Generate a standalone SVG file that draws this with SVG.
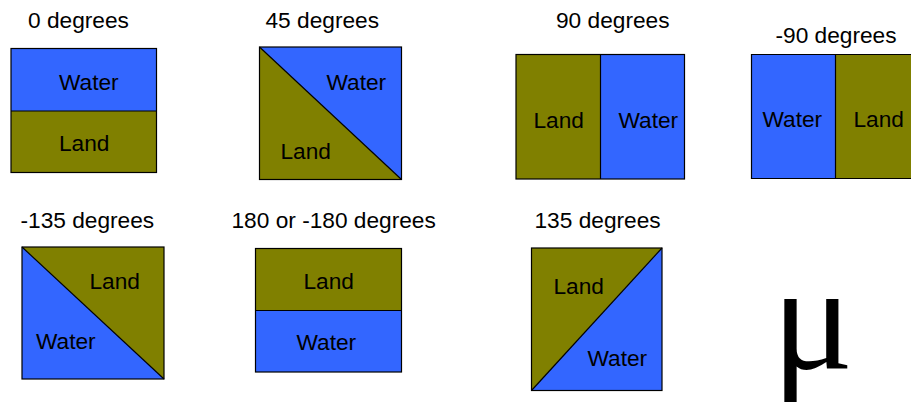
<svg xmlns="http://www.w3.org/2000/svg" width="911" height="402" viewBox="0 0 911 402">
<style>
text{font-family:"Liberation Sans",Arial,sans-serif;font-size:22.7px;fill:#000}
.w{fill:#3366FF}
.l{fill:#808000}
.b{fill:none;stroke:#000;stroke-width:1.2}
.d{stroke:#000;stroke-width:1.2;fill:none}
.mu{font-family:"Liberation Serif","Times New Roman",serif;font-size:152px}
</style>
<rect width="911" height="402" fill="#fff"/>
<g id="p0">
<text x="28" y="28">0 degrees</text>
<rect class="w" x="11" y="48.5" width="145.5" height="62.5"/>
<rect class="l" x="11" y="111" width="145.5" height="61.5"/>
<rect class="b" x="11" y="48.5" width="145.5" height="124"/>
<line class="d" x1="11" y1="111" x2="156.5" y2="111"/>
<text x="59" y="90">Water</text>
<text x="59" y="151">Land</text>
</g>
<g id="p45">
<text x="265.5" y="28">45 degrees</text>
<polygon class="w" points="259.5,47 401.5,47 401.5,179.5"/>
<polygon class="l" points="259.5,47 401.5,179.5 259.5,179.5"/>
<rect class="b" x="259.5" y="47" width="142" height="132.5"/>
<line class="d" x1="259.5" y1="47" x2="401.5" y2="179.5"/>
<text x="326.5" y="89.5">Water</text>
<text x="280.5" y="158.5">Land</text>
</g>
<g id="p90">
<text x="556" y="28">90 degrees</text>
<rect class="l" x="516" y="54.5" width="84.5" height="124.5"/>
<rect class="w" x="600.5" y="54.5" width="84" height="124.5"/>
<rect class="b" x="516" y="54.5" width="168.5" height="124.5"/>
<line class="d" x1="600.5" y1="54.5" x2="600.5" y2="179"/>
<text x="533.5" y="128">Land</text>
<text x="618.5" y="128">Water</text>
</g>
<g id="pm90">
<text x="775.5" y="43">-90 degrees</text>
<rect class="w" x="751.5" y="54.5" width="84" height="124"/>
<rect class="l" x="835.5" y="54.5" width="80" height="124"/>
<path class="d" d="M915,54.5 H751.5 V178.5 H915"/>
<line class="d" x1="835.5" y1="54.5" x2="835.5" y2="178.5"/>
<text x="762.5" y="127">Water</text>
<text x="853.5" y="127">Land</text>
</g>
<g id="pm135">
<text x="20.5" y="228">-135 degrees</text>
<polygon class="l" points="22,247 164,247 164,379"/>
<polygon class="w" points="22,247 164,379 22,379"/>
<rect class="b" x="22" y="247" width="142" height="132"/>
<line class="d" x1="22" y1="247" x2="164" y2="379"/>
<text x="89.5" y="288.5">Land</text>
<text x="36" y="349">Water</text>
</g>
<g id="p180">
<text x="231.5" y="228">180 or -180 degrees</text>
<rect class="l" x="255.5" y="248.5" width="146" height="62"/>
<rect class="w" x="255.5" y="310.5" width="146" height="61.5"/>
<rect class="b" x="255.5" y="248.5" width="146" height="123.5"/>
<line class="d" x1="255.5" y1="310.5" x2="401.5" y2="310.5"/>
<text x="303.5" y="289">Land</text>
<text x="296.5" y="350">Water</text>
</g>
<g id="p135">
<text x="534.5" y="228">135 degrees</text>
<polygon class="l" points="531.5,248 662,248 531.5,390.5"/>
<polygon class="w" points="662,248 662,390.5 531.5,390.5"/>
<rect class="b" x="531.5" y="248" width="130.5" height="142.5"/>
<line class="d" x1="531.5" y1="390.5" x2="662" y2="248"/>
<text x="553.5" y="293.5">Land</text>
<text x="587.5" y="366">Water</text>
</g>
<g id="mu">
<text class="mu" x="772" y="369">μ</text>
</g>
</svg>
